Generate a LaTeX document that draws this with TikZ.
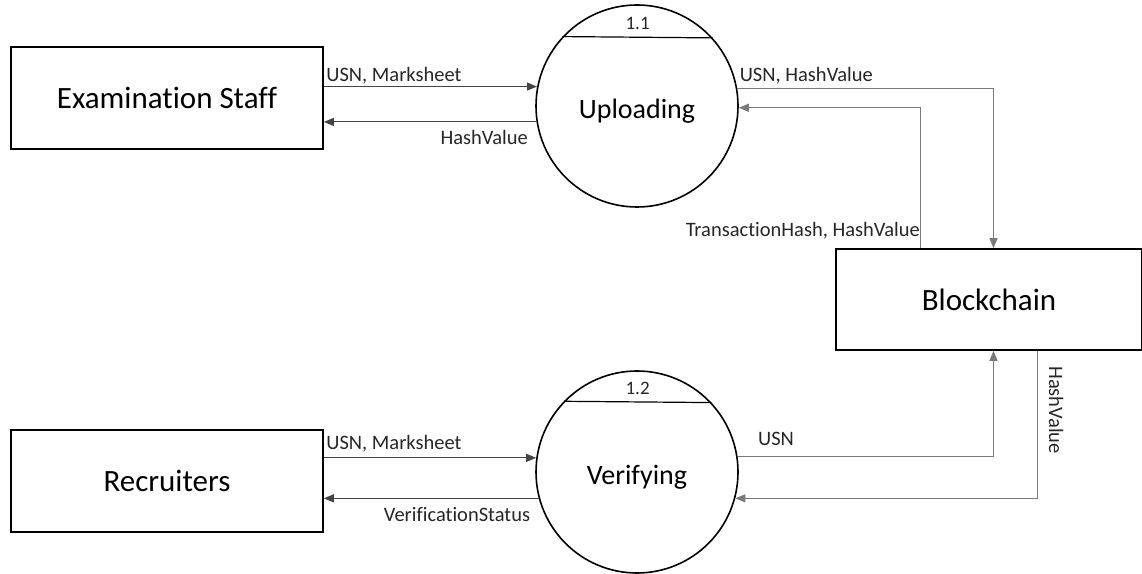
\documentclass[tikz,border=0pt]{standalone}
\usepackage{fontspec}
\setmainfont{Carlito}[Ligatures=NoCommon]
\usetikzlibrary{arrows.meta,positioning,calc}
\definecolor{flowdark}{HTML}{444444}
\definecolor{flowgray}{HTML}{7A7A7A}
\tikzset{
  entity/.style={draw=black, line width=1.6pt, minimum width=312pt, minimum height=102pt, inner sep=0pt, font=\fontsize{31}{35}\selectfont},
  process/.style={draw=black, circle, line width=1.6pt, minimum size=202pt, inner sep=0pt, text height=31pt, text depth=6pt, font=\fontsize{28}{32}\selectfont},
  flow/.style={-{Triangle[length=10pt,width=8pt]}, line width=1.1pt, draw=flowdark},
  sideflow/.style={flow, draw=flowgray},
  lbl/.style={font=\fontsize{20.5}{24}\selectfont, inner sep=2pt, text=black!85},
  procno/.style={lbl, font=\fontsize{19}{22}\selectfont}
}

\begin{document}
\begin{tikzpicture}[x=1pt, y=1pt]
  \useasboundingbox (0,0) rectangle (1142,573);
  \node[entity] (staff) at (167,475) {Examination Staff};
  \node[entity] (recruit) at (167,92) {Recruiters};
  \node[process] (upload) at (637,467) {Uploading};
  \node[process] (verify) at (637,101) {Verifying};
  \node[entity, minimum width=306pt, minimum height=101pt] (chain) at (989,273.5) {Blockchain};

  % process numbers
  \draw[line width=1.2pt] (upload.137.7) -- (upload.42.3);
  \draw[line width=1.2pt] (verify.136.1) -- (verify.43.9);
  \node[procno, above=5pt] (uploadno) at ($(upload.137.7)!0.5!(upload.42.3)$) {1.1};
  \node[procno, above=5pt] (verifyno) at ($(verify.136.1)!0.5!(verify.43.9)$) {1.2};

  % uploading flows
  \draw[flow] (staff.east |- upload.169.7) -- node[lbl, pos=0, anchor=south west] {USN, Marksheet} (upload.169.7);
  \draw[flow] (upload.189.7) -- node[lbl, pos=0, anchor=north east, xshift=-6pt, yshift=-6pt] {HashValue} (staff.east |- upload.189.7);
  \draw[sideflow] (upload.10.3) -| node[lbl, pos=0, anchor=south west, yshift=2pt] {USN, HashValue} ($(chain.north)+(4.5,0)$);
  \draw[sideflow] ($(chain.north)+(-68.5,0)$) |- node[lbl, pos=0, anchor=south east, xshift=2pt, yshift=7pt] {TransactionHash, HashValue} (upload.-1.1);

  % verifying flows
  \draw[flow] (recruit.east |- verify.172) -- node[lbl, pos=0, anchor=south west, yshift=3pt] {USN, Marksheet} (verify.172);
  \draw[flow] (verify.195.5) -- node[lbl, pos=0, anchor=north east, xshift=-6pt, yshift=-6pt] {VerificationStatus} (recruit.east |- verify.195.5);
  \draw[sideflow] (verify.9.7) -| node[lbl, pos=0, anchor=south west, xshift=18pt, yshift=8pt] {USN} ($(chain.south)+(4.5,0)$);
  \draw[sideflow] ($(chain.south)+(48.5,0)$) |- node[lbl, pos=0, xshift=9pt, yshift=-13pt, rotate=-90, anchor=south west] {HashValue} (verify.-15.5);
\end{tikzpicture}
\end{document}
